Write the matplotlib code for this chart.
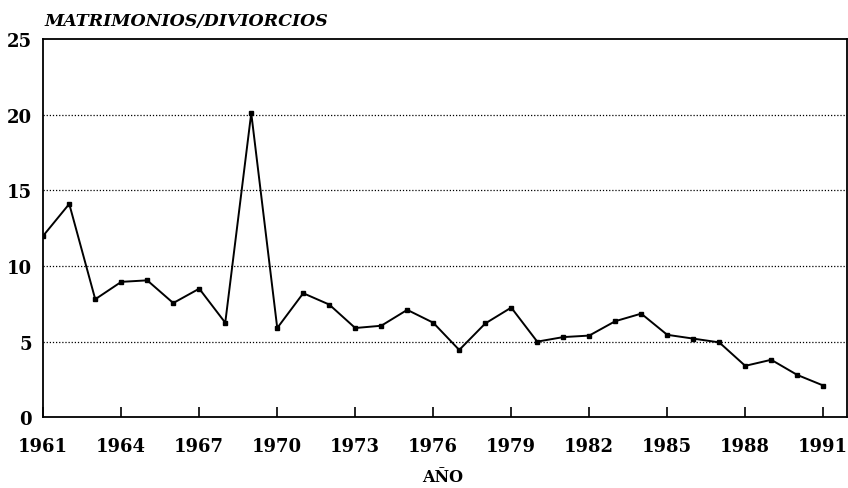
import matplotlib.pyplot as plt

# Relación matrimonios / divorcios por año
anios = list(range(1961, 1992))
valores = [12.0, 14.1, 7.8, 8.95, 9.05, 7.55, 8.5, 6.25, 20.1, 5.9,
           8.2, 7.45, 5.9, 6.05, 7.1, 6.25, 4.45, 6.2, 7.25, 5.0,
           5.3, 5.4, 6.35, 6.85, 5.45, 5.2, 4.95, 3.4, 3.8, 2.8, 2.1]
ticks_x = list(range(1961, 1992, 3))
ticks_y = [0, 5, 10, 15, 20, 25]

fuente = 'DejaVu Serif'

fig = plt.figure(figsize=(8.48, 4.89), dpi=100)
ax = fig.add_axes([0.051, 0.1446, 0.948, 0.7736])

ax.plot(anios, valores, color='black', linewidth=1.4, marker='s', markersize=3)

ax.set_xlim(1961, 1991.92)
ax.set_ylim(0, 25)
ax.set_xticks(ticks_x)
ax.set_yticks(ticks_y)

# rejilla punteada solo en las líneas interiores
for y in ticks_y[1:-1]:
    ax.axhline(y, color='black', linestyle=(0, (1, 1.5)), linewidth=0.9, zorder=0)

ax.tick_params(axis='x', direction='in', length=7, width=1.2, pad=14)
ax.tick_params(axis='y', length=0, pad=8)
for lab in ax.get_xticklabels() + ax.get_yticklabels():
    lab.set_fontfamily(fuente)
    lab.set_fontweight('bold')
    lab.set_fontsize(13)

for s in ax.spines.values():
    s.set_linewidth(1.3)

fig.text(0.052, 0.956, 'MATRIMONIOS/DIVIORCIOS', family=fuente, fontweight='bold',
         fontstyle='italic', fontsize=12.5, ha='left', va='center')
fig.text(0.522, 0.024, 'AÑO', family=fuente, fontweight='bold', fontsize=11.5,
         ha='center', va='center')

fig.savefig('out.png', dpi=100)
